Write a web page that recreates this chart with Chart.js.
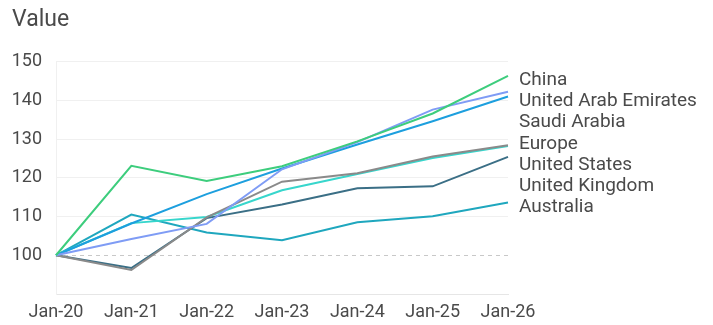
<!DOCTYPE html>
<html>
<head>
<meta charset="utf-8">
<script src="https://cdn.jsdelivr.net/npm/chart.js@4"></script>
<style>
  html, body { margin: 0; padding: 0; background: #fff; }
  #wrap { width: 713px; height: 325px; position: relative; }
</style>
</head>
<body>
<div id="wrap"><canvas id="value-chart"></canvas></div>
<script>
const categories = ["Jan-20", "Jan-21", "Jan-22", "Jan-23", "Jan-24", "Jan-25", "Jan-26"];

const seriesNames = ["China", "United Arab Emirates", "Saudi Arabia", "Europe", "United States", "United Kingdom", "Australia"];
const china = [100, 123.1, 119.2, 123.0, 129.4, 136.6, 146.3];
const uae = [100, 104.2, 108.1, 122.2, 129.2, 137.6, 142.2];
const saudiArabia = [100, 108.2, 115.8, 122.4, 128.6, 134.6, 141.0];
const europe = [100, 96.2, 109.8, 119.0, 121.2, 125.5, 128.4];
const unitedStates = [100, 96.7, 109.6, 113.1, 117.3, 117.8, 125.4];
const unitedKingdom = [100, 108.3, 109.9, 116.8, 121.0, 125.1, 128.2];
const australia = [100, 110.5, 105.9, 103.9, 108.5, 110.1, 113.6];

const yTicks = [90, 100, 110, 120, 130, 140, 150];

const colors = ["#3dcd7d", "#7f9cf5", "#1d9fde", "#8a8a8a", "#3b6f86", "#37d6cc", "#1fa7be"];
const seriesData = [china, uae, saudiArabia, europe, unitedStates, unitedKingdom, australia];

const FONT = "Roboto, 'Noto Sans', sans-serif";
const TEXT = "#4a4a4a";

// dashed baseline at 100
const baseline = {
    id: "baseline",
    beforeDatasetsDraw(chart) {
        const { ctx, chartArea, scales } = chart;
        const y = Math.round(scales.y.getPixelForValue(100)) + 0.5;
        ctx.save();
        ctx.strokeStyle = "#c8c8c8";
        ctx.lineWidth = 1;
        ctx.setLineDash([4, 4]);
        ctx.beginPath();
        ctx.moveTo(chartArea.left, y);
        ctx.lineTo(chartArea.right, y);
        ctx.stroke();
        ctx.restore();
    },
};

// series names stacked to the right, starting level with the top line's end
const endLabels = {
    id: "endLabels",
    afterDatasetsDraw(chart) {
        const { ctx, chartArea, scales } = chart;
        const gap = 21.3;
        const first = chart.data.datasets[0].data;
        const y0 = scales.y.getPixelForValue(first[first.length - 1]);
        ctx.save();
        ctx.font = "19px " + FONT;
        ctx.fillStyle = TEXT;
        ctx.textBaseline = "middle";
        ctx.textAlign = "left";
        chart.data.datasets.forEach((ds, i) => {
            ctx.fillText(ds.label, chartArea.right + 11, y0 + 4 + i * gap);
        });
        ctx.restore();
    },
};

const datasets = seriesNames.map((name, i) => ({
    label: name,
    data: seriesData[i],
    borderColor: colors[i],
    backgroundColor: colors[i],
    borderWidth: 2,
    pointRadius: 0,
    tension: 0,
}));

new Chart(document.getElementById("value-chart"), {
    type: "line",
    data: { labels: categories, datasets },
    options: {
        responsive: true,
        maintainAspectRatio: false,
        animation: false,
        layout: { padding: { left: 12, right: 205, top: 2, bottom: 0 } },
        plugins: {
            legend: { display: false },
            tooltip: { enabled: false },
            title: {
                display: true,
                text: "Value",
                align: "start",
                color: TEXT,
                font: { family: FONT, size: 23, weight: "normal" },
                padding: { top: 4, bottom: 28 },
            },
        },
        scales: {
            x: {
                offset: false,
                grid: { display: false },
                border: { display: true, color: "#e6e6e6" },
                afterFit: (s) => { s.height = 31; },
                ticks: {
                    color: TEXT,
                    font: { family: FONT, size: 18 },
                    padding: 0,
                    maxRotation: 0,
                },
            },
            y: {
                min: yTicks[0],
                max: yTicks[yTicks.length - 1],
                afterBuildTicks: (axis) => {
                    axis.ticks = yTicks.map((v) => ({ value: v }));
                },
                afterFit: (s) => { s.width = 44; },
                grid: {
                    drawTicks: false,
                    color: (c) => (c.tick && c.tick.value === 100 ? "rgba(0,0,0,0)" : "#f0f0f0"),
                },
                border: { display: true, color: "#f0f0f0" },
                ticks: {
                    color: TEXT,
                    font: { family: FONT, size: 18 },
                    padding: 14,
                    callback: (v) => (v === 90 ? "" : v),
                },
            },
        },
    },
    plugins: [baseline, endLabels],
});
</script>
</body>
</html>
